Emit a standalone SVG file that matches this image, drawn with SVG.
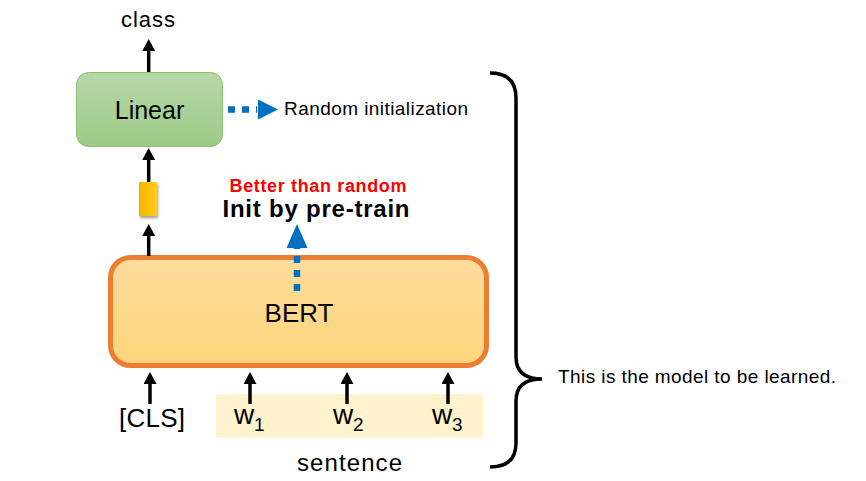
<svg xmlns="http://www.w3.org/2000/svg" width="866" height="481" viewBox="0 0 866 481">
<defs>
<linearGradient id="gGreen" x1="0" y1="0" x2="0" y2="1">
<stop offset="0" stop-color="#b7d8a9"/>
<stop offset="1" stop-color="#9dca86"/>
</linearGradient>
<linearGradient id="gBert" x1="0" y1="0" x2="0" y2="1">
<stop offset="0" stop-color="#fddc9c"/>
<stop offset="1" stop-color="#ffd57a"/>
</linearGradient>
<linearGradient id="gGold" x1="0" y1="0" x2="1" y2="0">
<stop offset="0" stop-color="#f2b400"/>
<stop offset="0.5" stop-color="#ffc000"/>
<stop offset="1" stop-color="#ffcb2e"/>
</linearGradient>
<filter id="shadow" x="-50%" y="-50%" width="200%" height="200%">
<feGaussianBlur in="SourceAlpha" stdDeviation="1.5"/>
<feOffset dx="1" dy="2" result="b"/>
<feComponentTransfer><feFuncA type="linear" slope="0.4"/></feComponentTransfer>
<feMerge><feMergeNode/><feMergeNode in="SourceGraphic"/></feMerge>
</filter>
<marker id="blk" viewBox="0 0 12 13" refX="0" refY="6.5" markerWidth="12" markerHeight="13" markerUnits="userSpaceOnUse" orient="auto">
<path d="M0,0 L12,6.5 L0,13 Z" fill="#000"/>
</marker>
</defs>
<style>
.t{font-family:"Liberation Sans",Arial,sans-serif;fill:#000}
.b{font-weight:bold}
.ar{stroke:#000;stroke-width:3.5;fill:none}
.dot{stroke:#0070c0;stroke-width:6.5;fill:none;stroke-dasharray:7 7}
</style>

<g id="node-linear">
<rect x="76.5" y="72.5" width="146" height="74" rx="12" fill="url(#gGreen)" stroke="#8dc06d" stroke-width="1"/>
<text class="t" x="149.5" y="119" font-size="25" text-anchor="middle">Linear</text>
</g>

<g id="node-vector">
<rect x="139" y="182" width="18" height="34" fill="url(#gGold)" filter="url(#shadow)"/>
</g>

<g id="node-bert">
<rect x="110.5" y="257.5" width="376" height="108" rx="20" fill="url(#gBert)" stroke="#ed7d31" stroke-width="5"/>
<text class="t" x="299" y="322" font-size="26" text-anchor="middle">BERT</text>
</g>

<g id="node-sentence">
<rect x="216" y="394" width="267" height="44" fill="#fff2cc"/>
<text class="t" x="234" y="424" font-size="28">w</text>
<text class="t" x="254" y="431" font-size="19">1</text>
<text class="t" x="333" y="424" font-size="28">w</text>
<text class="t" x="353" y="431" font-size="19">2</text>
<text class="t" x="432" y="424" font-size="28">w</text>
<text class="t" x="452" y="431" font-size="19">3</text>
</g>

<g id="connectors">
<line class="ar" x1="148.7" y1="72" x2="148.7" y2="51" marker-end="url(#blk)"/>
<line class="ar" x1="148.7" y1="182" x2="148.7" y2="160" marker-end="url(#blk)"/>
<line class="ar" x1="148.7" y1="256" x2="148.7" y2="236" marker-end="url(#blk)"/>
<line class="ar" x1="150" y1="404" x2="150" y2="384" marker-end="url(#blk)"/>
<line class="ar" x1="250" y1="404" x2="250" y2="384" marker-end="url(#blk)"/>
<line class="ar" x1="347" y1="404" x2="347" y2="384" marker-end="url(#blk)"/>
<line class="ar" x1="448" y1="404" x2="448" y2="384" marker-end="url(#blk)"/>
<line class="dot" x1="297" y1="291" x2="297" y2="248"/>
<path d="M286.5,248 L297,224 L307.5,248 Z" fill="#0070c0"/>
<line class="dot" x1="228" y1="109.5" x2="257" y2="109.5"/>
<path d="M258,99.5 L278,109.5 L258,119.5 Z" fill="#0070c0"/>
<path d="M490,73 Q516,73 516,98 L516,357 Q516,379 542,379 Q516,379 516,401 L516,443 Q516,467 490,467" fill="none" stroke="#000" stroke-width="3.5"/>
</g>

<g id="labels">
<text class="t" x="148" y="27" font-size="22" text-anchor="middle" textLength="54">class</text>
<text class="t" x="284" y="115" font-size="19" textLength="184">Random initialization</text>
<text class="t b" x="318" y="192" font-size="18" text-anchor="middle" style="fill:#ff0000" textLength="177">Better than random</text>
<text class="t b" x="316" y="217" font-size="24" text-anchor="middle" textLength="187">Init by pre-train</text>
<text class="t" x="152" y="427" font-size="26" text-anchor="middle" textLength="66">[CLS]</text>
<text class="t" x="349.5" y="471" font-size="24" text-anchor="middle" textLength="105">sentence</text>
<text class="t" x="558" y="383" font-size="19" textLength="278">This is the model to be learned.</text>
</g>
</svg>
